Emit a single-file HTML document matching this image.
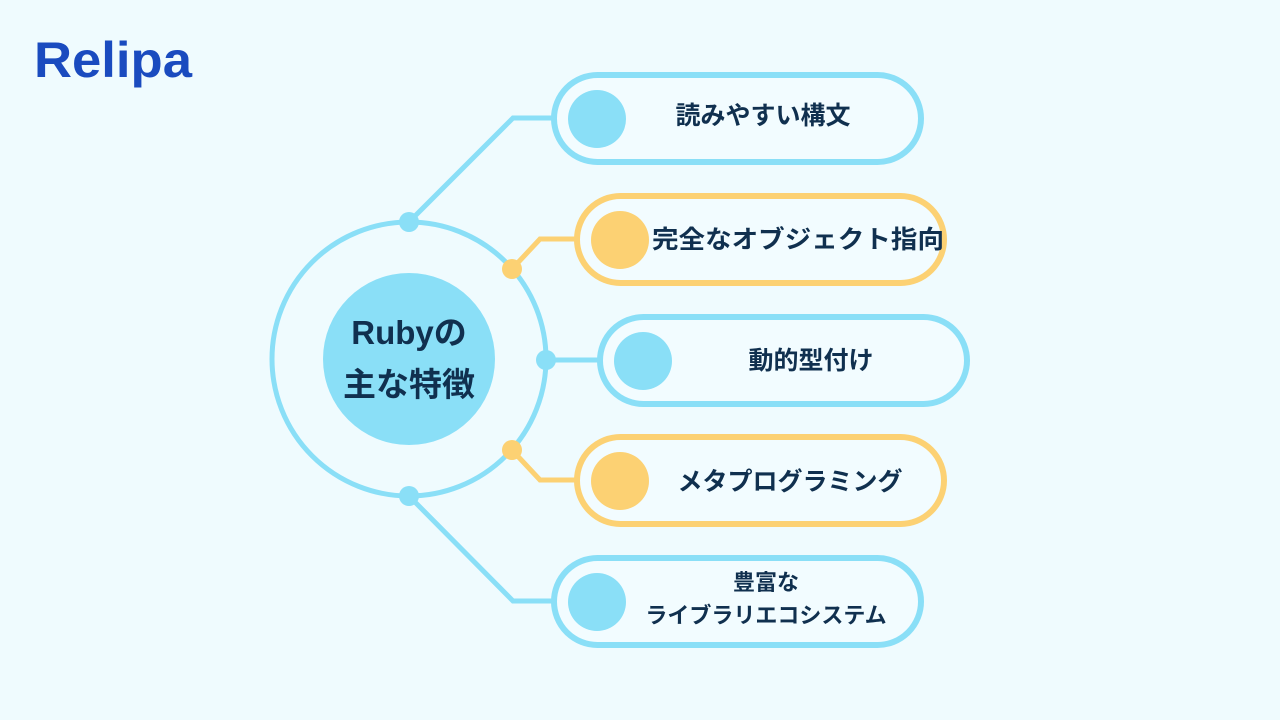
<!DOCTYPE html>
<html><head><meta charset="utf-8"><style>
html,body{margin:0;padding:0;background:#effbfe;}
svg{display:block}
text{font-family:"Liberation Sans","Noto Sans CJK JP",sans-serif;font-weight:bold;fill:#10304f;}
</style></head><body>
<svg width="1280" height="720" viewBox="0 0 1280 720" xmlns="http://www.w3.org/2000/svg">
<rect width="1280" height="720" fill="#effbfe"/>
<text x="34" y="77" font-size="50" textLength="158" lengthAdjust="spacingAndGlyphs" style="fill:#1a4bbf;font-family:'Liberation Sans',sans-serif;font-weight:900">Relipa</text>
<circle cx="409" cy="359" r="137" fill="none" stroke="#8adff7" stroke-width="5"/>
<circle cx="409" cy="359" r="86" fill="#8adff7"/>
<text x="409" y="344" font-size="33" text-anchor="middle">Rubyの</text>
<text x="409" y="396" font-size="33" text-anchor="middle">主な特徴</text>
<g fill="none" stroke-width="5">
<polyline points="409,222 513,118 552,118" stroke="#8adff7"/>
<polyline points="512,269 540,239 575,239" stroke="#fcd173"/>
<polyline points="546,360 598,360" stroke="#8adff7"/>
<polyline points="512,450 540,480 575,480" stroke="#fcd173"/>
<polyline points="409,496 513,601 552,601" stroke="#8adff7"/>
</g>
<circle cx="409" cy="222" r="10" fill="#8adff7"/>
<circle cx="512" cy="269" r="10" fill="#fcd173"/>
<circle cx="546" cy="360" r="10" fill="#8adff7"/>
<circle cx="512" cy="450" r="10" fill="#fcd173"/>
<circle cx="409" cy="496" r="10" fill="#8adff7"/>
<g stroke-width="6" fill="#f2fcff">
<rect x="554" y="75" width="367" height="87" rx="43.5" stroke="#8adff7"/>
<rect x="577" y="196" width="367" height="87" rx="43.5" stroke="#fcd173"/>
<rect x="600" y="317" width="367" height="87" rx="43.5" stroke="#8adff7"/>
<rect x="577" y="437" width="367" height="87" rx="43.5" stroke="#fcd173"/>
<rect x="554" y="558" width="367" height="87" rx="43.5" stroke="#8adff7"/>
</g>
<circle cx="597" cy="119" r="29" fill="#8adff7"/>
<circle cx="620" cy="240" r="29" fill="#fcd173"/>
<circle cx="643" cy="361" r="29" fill="#8adff7"/>
<circle cx="620" cy="481" r="29" fill="#fcd173"/>
<circle cx="597" cy="602" r="29" fill="#8adff7"/>
<text x="763" y="124" font-size="25" text-anchor="middle">読みやすい構文</text>
<text x="798" y="248" font-size="25" text-anchor="middle" textLength="292" lengthAdjust="spacingAndGlyphs">完全なオブジェクト指向</text>
<text x="811" y="369" font-size="25" text-anchor="middle">動的型付け</text>
<text x="790" y="490" font-size="25" text-anchor="middle">メタプログラミング</text>
<text x="766" y="590" font-size="22" text-anchor="middle">豊富な</text>
<text x="766" y="623" font-size="22" text-anchor="middle">ライブラリエコシステム</text>
</svg>
</body></html>
